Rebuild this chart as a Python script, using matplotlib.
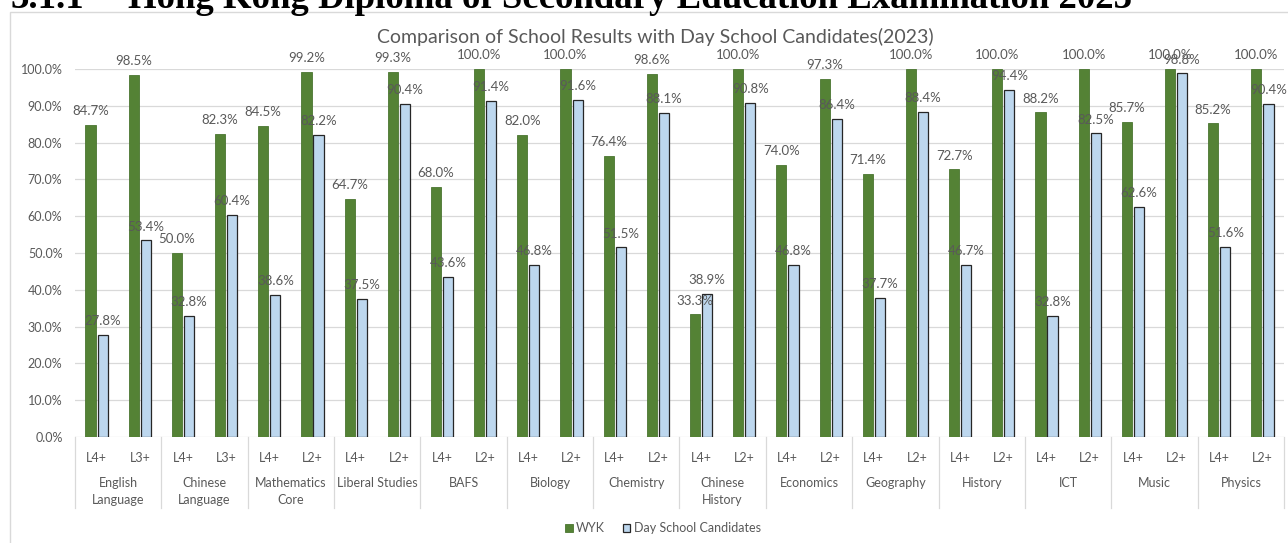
import matplotlib
matplotlib.use("Agg")
import matplotlib.pyplot as plt
import numpy as np
from matplotlib.patches import Rectangle, Patch

# datos
subjects = ["English\nLanguage", "Chinese\nLanguage", "Mathematics\nCore", "Liberal Studies",
            "BAFS", "Biology", "Chemistry", "Chinese\nHistory", "Economics", "Geography",
            "History", "ICT", "Music", "Physics"]
levels = ["L4+", "L3+", "L4+", "L3+", "L4+", "L2+", "L4+", "L2+", "L4+", "L2+",
          "L4+", "L2+", "L4+", "L2+", "L4+", "L2+", "L4+", "L2+", "L4+", "L2+",
          "L4+", "L2+", "L4+", "L2+", "L4+", "L2+", "L4+", "L2+"]
wyk = [84.7, 98.5, 50.0, 82.3, 84.5, 99.2, 64.7, 99.3, 68.0, 100.0,
       82.0, 100.0, 76.4, 98.6, 33.3, 100.0, 74.0, 97.3, 71.4, 100.0,
       72.7, 100.0, 88.2, 100.0, 85.7, 100.0, 85.2, 100.0]
day = [27.8, 53.4, 32.8, 60.4, 38.6, 82.2, 37.5, 90.4, 43.6, 91.4,
       46.8, 91.6, 51.5, 88.1, 38.9, 90.8, 46.8, 86.4, 37.7, 88.4,
       46.7, 94.4, 32.8, 82.5, 62.6, 98.8, 51.6, 90.4]

VERDE = "#548235"
AZUL = "#bdd7ee"
GRIS = "#595959"
REJILLA = "#d9d9d9"
FONT = "Lato"

W, H = 1288, 543
fig = plt.figure(figsize=(W / 100, H / 100), dpi=100)
fig.patch.set_facecolor("white")

# encabezado cortado arriba
fig.text(10 / W, 1 - 8 / H, "3.1.1", family="Liberation Serif", fontweight="bold",
         fontsize=26.5, va="baseline", ha="left")
fig.text(128 / W, 1 - 8 / H, "Hong Kong Diploma of Secondary Education Examination 2023",
         family="Liberation Serif", fontweight="bold", fontsize=26.5, va="baseline", ha="left")

# marco del grafico
fig.add_artist(Rectangle((10 / W, -0.1), 1.2, 1.1 - 12 / H, transform=fig.transFigure,
                         fill=False, edgecolor=REJILLA, linewidth=1.0))

fig.text(655 / W, 1 - 37 / H, "Comparison of School Results with Day School Candidates(2023)",
         family=FONT, fontsize=14, color=GRIS, ha="center", va="center")

ax = fig.add_axes([75 / W, (H - 437) / H, (1284 - 75) / W, (437 - 69) / H])
x = np.arange(len(levels))
bw = 0.235
b1 = ax.bar(x - 0.14, wyk, bw, color=VERDE, edgecolor="#4a7530", linewidth=0.6, zorder=2)
b2 = ax.bar(x + 0.14, day, bw, color=AZUL, edgecolor="#262626", linewidth=0.9, zorder=2)

for bars, vals in ((b1, wyk), (b2, day)):
    for r, v in zip(bars, vals):
        ax.annotate(f"{v:.1f}%", (r.get_x() + r.get_width() / 2, v), xytext=(0, 10),
                    textcoords="offset points", ha="center", va="center",
                    family=FONT, fontsize=9.5, color=GRIS, clip_on=False, zorder=4)

ax.set_xlim(-0.5, len(levels) - 0.5)
ax.set_ylim(0, 100)
ax.set_yticks(np.arange(0, 101, 10))
ax.set_yticklabels([f"{t:.1f}%" for t in np.arange(0, 101, 10)])
ax.yaxis.grid(True, color=REJILLA, linewidth=0.9, zorder=0)
ax.set_axisbelow(True)
for s in ax.spines.values():
    s.set_visible(False)
ax.tick_params(axis="y", length=0, pad=9, labelsize=9, labelcolor=GRIS)
ax.set_xticks(x)
ax.set_xticklabels(levels)
ax.tick_params(axis="x", length=0, pad=11, labelsize=9, labelcolor=GRIS)
for lab in ax.get_xticklabels() + ax.get_yticklabels():
    lab.set_family(FONT)

# etiquetas de segundo nivel y separadores
trans = ax.get_xaxis_transform()
for i, s in enumerate(subjects):
    ax.annotate(s, (2 * i + 0.5, 0), xycoords=trans, xytext=(0, -29),
                textcoords="offset points", ha="center", va="top", family=FONT,
                fontsize=9, color=GRIS, linespacing=1.5)
sep = -(508 - 437) / (437 - 69)
for b in np.arange(-0.5, len(levels), 2):
    ax.plot([b, b], [0, sep], transform=trans, color=REJILLA, linewidth=0.9, clip_on=False)

handles = [Patch(facecolor=VERDE, edgecolor="#4a7530", linewidth=0.6, label="WYK"),
           Patch(facecolor=AZUL, edgecolor="#262626", linewidth=0.9, label="Day School Candidates")]
fig.legend(handles=handles, loc="center", bbox_to_anchor=(663 / W, 1 - 528 / H), ncol=2,
           frameon=False, prop={"family": FONT, "size": 9}, handlelength=0.6,
           handleheight=0.6, handletextpad=0.3, columnspacing=1.4, labelcolor=GRIS)

fig.savefig("out.png", dpi=100, facecolor="white")
